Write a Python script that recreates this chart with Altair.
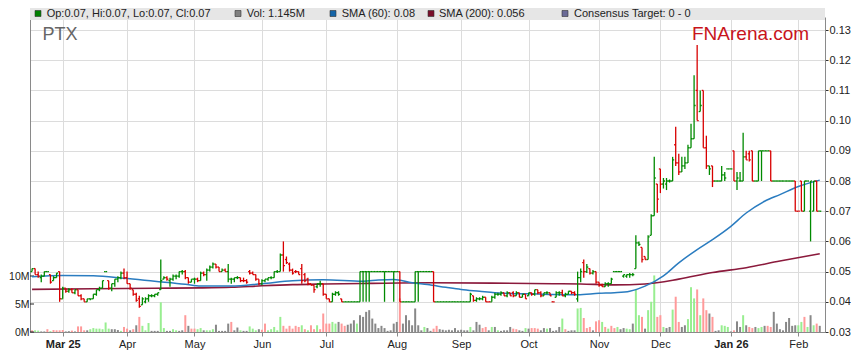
import altair as alt
import pandas as pd

# ---------------- data (prices in thousandths of a dollar, volume in millions) -------------
# x position = weekday index, 0 = Mon 3 Mar 2025; first bar is Mon 17 Feb 2025 (index -10)
FIRST_INDEX = -10

FEB25 = [(50,51,50,51,'g'),(51,51,49,49,'r'),(49,50,48,48.5,'r'),(48,49,46.5,48.5,'g'),(48.5,50,48.5,50,'g'),
         (50,50,50,50,'g'),(49,49,46,46.5,'r'),(47,48.5,47,48,'g'),(48,49.5,48,49.5,'g'),(50,50,40,41,'r')]
MAR25 = [(41,45,41,44.5,'g'),(44.5,44.5,43,43.5,'r'),(43.5,44.5,43,44,'g'),(44,44.5,43,43,'r'),(43,44,42.5,44,'g'),
         (44,44,42,42,'r'),(42,42.5,40.5,41,'r'),(41,41,40,40,'r'),(40,41,40,41,'g'),(41,41,40.5,41,'g'),
         (41,42.5,41,42.5,'g'),(42.5,44,42,44,'g'),(44,45,43.5,44.5,'g'),(44.5,47,44.5,47,'g'),(50,50,50,50,'g'),
         (47,47,44,44.5,'r'),(44.5,46,43.5,46,'g'),(46,47.5,45,47.5,'g'),(47.5,48.5,46.5,48,'g'),(48,50,47.5,49.5,'g'),
         (49.5,51,47.5,48,'r')]
APR25 = [(48,50,46,46,'r'),(46,46,44,44.5,'r'),(44,44,42,42.5,'r'),(42.5,43,40,40.5,'r'),(41,42,38,38.5,'r'),
         (39,41.5,39,41,'g'),(40,41.5,39.5,41,'g'),(41,42.5,40,42,'g'),(42,42.5,41.5,42,'g'),(42,42.5,41.5,42.5,'g'),
         (42.5,43,42,43,'g'),(44,54,44,47,'g'),(47.5,48.5,47.5,48,'g'),(48,48.5,47,47.5,'r'),(47,48,45,47.5,'g'),
         (47.5,49,47,48.5,'g'),(48.5,49,47.5,48.5,'g'),(48.5,50,48,50,'g'),(50,50.5,49,50,'g'),(50,50.5,47.5,48,'r'),
         (48,48,46,46.5,'r'),(46.5,47.5,46.5,47.5,'g')]
MAY25 = [(47.5,48,46,47.5,'g'),(47.5,48,46.5,47,'r'),(47,50,47,49.5,'g'),(49.5,50,48.5,49,'r'),(49,51,47,50.5,'g'),
         (50.5,52,50,51.5,'g'),(51.5,53,51,52.5,'g'),(52.5,52.5,51,51.5,'r'),(51.5,51.5,50,50,'r'),(50,51,50,50.5,'g'),
         (50.5,51,50,50,'r'),(50,52.5,46.5,47.5,'g'),(47.5,48,46,47.5,'g'),(47.5,48,46.5,48,'g'),(48,48.5,47.5,48,'g'),
         (48,48,46.5,47,'r'),(47,48,46.5,47,'r'),(47,47.5,46,46.5,'r'),(50,50.5,49,49.5,'r'),(49.5,50,49,49,'r'),
         (49,49,47,47.5,'r'),(47.5,47.5,45.5,46,'r')]
JUN25 = [(46,47.5,45.5,47,'g'),(47,47.5,46.5,47.5,'g'),(47.5,48,47,48,'g'),(48,48.5,47.5,48,'g'),(48,50,48,50,'g'),
         (50,50.5,49.5,50,'g'),(50,56,50,55.5,'g'),(55.5,60,50,52,'r'),(54,55,52.5,53,'r'),(52.5,53,50,50.5,'r'),
         (50.5,51,49,49.5,'r'),(50,50.5,49.5,50,'r'),(50,50,49,49,'r'),(51,52.5,46,47,'r'),(49,49.5,46.5,47,'r'),
         (47.5,48,45.5,46,'r'),(46,46,45.5,45.5,'r'),(45.5,45.5,43,44,'r'),(45,46,44.5,46,'g'),(46,47,45,46,'g'),
         (46,46,42,42.5,'r')]
JUL25 = [(42.5,42.5,41,41,'r'),(41,41,40,40,'r'),(40,43,40,42.5,'g'),(42.5,43.5,42,43,'g'),(43,43.5,42,42.5,'g'),
         (41,41,40,40,'r'),(40,40,40,40,'g'),(40,40,40,40,'g'),(40,40,40,40,'g'),(40,40,40,40,'g'),
         (40,40,40,40,'g'),(40,50,40,50,'g'),(50,50,40,50,'g'),(50,50,40,50,'g'),(50,50,40,50,'g'),
         (50,50,50,50,'g'),(50,50,50,50,'g'),(50,50,50,50,'g'),(50,50,50,50,'g'),(50,50,40,50,'g'),
         (50,50,50,50,'g'),(50,50,50,50,'g'),(50,50,40,50,'g')]
AUG25 = [(50,50,50,50,'g'),(50,50,40,40,'r'),(40,40,40,40,'g'),(40,40,40,40,'g'),(40,40,40,40,'g'),
         (40,40,40,40,'g'),(40,50,40,50,'g'),(50,50,40,50,'g'),(50,50,50,50,'g'),(50,50,50,50,'g'),
         (50,50,50,50,'g'),(50,50,50,50,'g'),(50,50,40,40,'r'),(40,40,40,40,'g'),(40,40,40,40,'g'),
         (40,40,40,40,'g'),(40,40,40,40,'g'),(40,40,40,40,'g'),(40,40,40,40,'g'),(40,40,40,40,'g'),
         (40,40,40,40,'g')]
SEP25 = [(40,40,40,40,'g'),(40,40,40,40,'g'),(40,40,40,40,'g'),(40,43,40,42.5,'g'),(42,42,40,40.5,'r'),
         (40.5,41.5,40,41,'g'),(41,41.5,40.5,41,'g'),(41,42,40.5,41.5,'g'),(41.5,41.5,40,40,'r'),(40,40,40,40,'r'),
         (40,42,40,41.5,'g'),(41.5,43,41,42.5,'g'),(42.5,43,42,42.5,'g'),(42.5,43.5,42,43,'g'),(43,43,42,42,'r'),
         (42,43.5,41.5,43,'g'),(43,43,42,42,'r'),(43,43.5,41.5,42,'r'),(42,43.5,42,43,'g'),(43,43,41.5,41.5,'r'),
         (41.5,42.5,41.5,42.5,'g'),(42.5,42.5,41,41,'r')]
OCT25 = [(42,43,42,43,'g'),(43,43,42,42.5,'r'),(42.5,44,42,44,'g'),(44,44,42.5,43,'r'),(43,43.5,41.5,42,'r'),
         (42,43,42,43,'g'),(43,43.5,42.5,43,'g'),(43,43,42,42,'r'),(40,40,40,40,'r'),(41.5,43.5,41.5,43,'g'),
         (43,43.5,42,43,'g'),(43,44,42,42,'r'),(42,43,41.5,42.5,'g'),(42.5,43.5,42.5,43.5,'g'),(43.5,43.5,42.5,43,'r'),
         (43,43.5,42,42.5,'r'),(41,50,40,48,'g'),(48,51,46.5,50,'g'),(53,54,48,50,'r'),(50,52.5,49.5,51.5,'g'),
         (51,51,49,49.5,'r'),(49.5,50.5,49,50,'g'),(50,50,46,46.5,'r')]
NOV25 = [(46.5,46.5,45,45.5,'r'),(45.5,46,45,45,'r'),(45,46.5,45,46,'g'),(46,46.5,45,46,'g'),(46,48,46,47.5,'g'),
         (50,50,50,50,'g'),(50,50,50,50,'g'),(50,50,50,50,'g'),(48.5,49,48,49,'g'),(48.5,49,48,49,'g'),
         (49,49.5,48,49,'g'),(49,49.5,48.5,49,'g'),(51,62,51,59.5,'g'),(59.5,60,58.5,59,'g'),(58,58,53,54,'r'),
         (55,55,54,54,'r'),(54,62,54,61.5,'g'),(62,69,62,68.5,'g'),(68.5,88,68.5,81,'g'),(79,79,69.5,74,'r')]
DEC25 = [(84,84,76,79,'r'),(79,81,77.5,80,'g'),(79,81,77,80,'g'),(80,80.5,79.5,80,'g'),(80,88,80,87,'g'),
         (92,98,85,86,'r'),(86,89,82,83,'r'),(83,88,83,85,'g'),(85,88,84,86,'g'),(86,92,86,91,'g'),
         (91,99,91,94,'g'),(94,115,94,105,'g'),(110,125,100,100,'r'),(103,110,103,105,'g'),(110,110,91,91,'r'),
         (91,95,84,85,'r'),(85,85,82,84,'g'),(85,85,78,80,'r'),(80,80,80,80,'g'),(80,80,80,80,'g'),
         (80,85,80,82,'g'),(82,83,80,81,'g'),(84,84,84,84,'g')]
JAN26 = [(84,84,84,84,'g'),(90,90,80,80,'r'),(80,83,77,81,'g'),(80,83,80,80,'g'),(80,96,80,88,'g'),
         (88,90,87,87,'r'),(89,90,86.5,87,'r'),(90,90,80,80,'r'),(80,80,80,80,'g'),(80,90,80,90,'g'),
         (90,90,80,90,'g'),(90,90,90,90,'g'),(90,90,90,90,'g'),(90,90,80,80,'r'),(80,80,80,80,'g'),
         (80,80,80,80,'g'),(80,80,80,80,'g'),(80,80,80,80,'g'),(80,80,80,80,'g'),(80,80,80,80,'g'),
         (80,80,80,80,'g'),(80,80,70,70,'r')]
FEB26 = [(70,70,70,70,'r'),(80,80,70,70,'r'),(70,80,70,80,'g'),(80,80,80,80,'g'),(70,80,60,80,'g'),
         (70,80,70,80,'g'),(80,80,70,70,'r'),(70,70,70,70,'g')]

VOL_FEB25 = [(0.3,'r'),(0.3,'g'),(0.25,'g'),(0.1,'x'),(0.1,'x'),(0.5,'r'),(0.15,'g'),(0.35,'r'),(0.3,'r'),(0.3,'r')]
VOL_MAR25 = [(0.35,'r'),(0.1,'x'),(0.15,'x'),(0.25,'r'),(0.1,'x'),(1.0,'r'),(1.0,'r'),(0.3,'r'),(0.3,'x'),(0.5,'g'),
             (0.7,'g'),(0.6,'g'),(0.6,'g'),(0.5,'g'),(1.7,'g'),(0.6,'g'),(0.5,'x'),(0.5,'x'),(0.35,'x'),(0.2,'g'),
             (0.9,'r')]
VOL_APR25 = [(0.6,'r'),(0.3,'x'),(0.5,'r'),(1.2,'x'),(2.7,'r'),(1.1,'g'),(0.3,'g'),(1.6,'g'),(0.2,'x'),(0.2,'x'),
             (0.2,'x'),(5.3,'g'),(0.7,'g'),(0.2,'x'),(0.2,'x'),(0.5,'g'),(0.3,'g'),(0.2,'x'),(0.3,'x'),(3.0,'r'),
             (1.1,'x'),(0.6,'r')]
VOL_MAY25 = [(0.6,'r'),(0.5,'g'),(0.7,'g'),(0.3,'x'),(0.3,'g'),(0.3,'g'),(0.5,'g'),(1.3,'x'),(0.2,'x'),(0.2,'x'),
             (0.2,'x'),(1.5,'x'),(1.8,'r'),(0.3,'x'),(0.8,'x'),(0.3,'g'),(0.2,'x'),(0.2,'x'),(1.0,'g'),(0.6,'g'),
             (0.3,'g'),(0.5,'x')]
VOL_JUN25 = [(0.4,'r'),(1.5,'r'),(0.3,'g'),(0.5,'g'),(0.9,'g'),(0.3,'g'),(2.7,'g'),(1.1,'r'),(0.6,'r'),(1.1,'r'),
             (0.6,'r'),(1.1,'r'),(0.9,'r'),(1.2,'g'),(0.5,'r'),(0.3,'g'),(1.2,'r'),(0.5,'r'),(1.2,'g'),(0.5,'r'),
             (3.3,'r')]
VOL_JUL25 = [(1.5,'r'),(1.5,'r'),(1.8,'g'),(1.5,'g'),(1.8,'x'),(1.5,'r'),(1.1,'r'),(1.3,'x'),(1.5,'x'),(2.1,'x'),
             (1.5,'g'),(3.0,'x'),(2.7,'x'),(3.6,'x'),(3.9,'x'),(2.4,'x'),(1.5,'x'),(0.7,'x'),(1.1,'x'),(0.7,'x'),
             (0.2,'x'),(0.3,'x'),(1.5,'x')]
VOL_AUG25 = [(1.8,'x'),(6.0,'r'),(1.5,'x'),(3.0,'x'),(2.1,'x'),(1.2,'x'),(4.2,'x'),(1.2,'x'),(0.3,'x'),(0.9,'g'),
             (0.7,'x'),(0.2,'x'),(0.6,'r'),(1.1,'r'),(0.5,'x'),(0.4,'x'),(0.3,'x'),(0.4,'x'),(0.3,'x'),(0.7,'x'),
             (0.3,'x')]
VOL_SEP25 = [(0.4,'x'),(0.3,'x'),(0.3,'x'),(0.9,'g'),(0.3,'x'),(1.8,'x'),(1.3,'x'),(0.7,'r'),(0.9,'r'),(0.3,'x'),
             (0.9,'g'),(0.9,'x'),(0.3,'g'),(0.2,'x'),(0.3,'x'),(0.3,'x'),(0.9,'x'),(0.6,'r'),(0.5,'r'),(0.3,'x'),
             (0.2,'x'),(0.7,'g')]
VOL_OCT25 = [(0.6,'x'),(0.7,'r'),(0.7,'r'),(0.6,'r'),(0.3,'x'),(0.7,'x'),(0.6,'g'),(0.7,'x'),(0.2,'x'),(0.3,'x'),
             (0.9,'x'),(2.4,'g'),(0.5,'r'),(0.2,'x'),(0.3,'x'),(0.3,'x'),(4.2,'g'),(4.3,'g'),(2.5,'r'),(0.7,'r'),
             (0.9,'r'),(0.3,'x'),(1.9,'r')]
VOL_NOV25 = [(2.1,'r'),(1.8,'g'),(0.9,'r'),(0.6,'g'),(1.1,'r'),(0.7,'r'),(0.9,'g'),(0.5,'x'),(0.7,'x'),(0.6,'g'),
             (0.5,'g'),(1.5,'x'),(7.7,'g'),(3.0,'g'),(2.7,'r'),(0.6,'x'),(3.9,'g'),(5.4,'g'),(10.1,'g'),(2.7,'r')]
VOL_DEC25 = [(3.0,'r'),(0.9,'g'),(0.7,'x'),(0.9,'x'),(4.0,'g'),(6.3,'r'),(1.8,'r'),(0.9,'x'),(1.2,'x'),(2.3,'g'),
             (8.0,'g'),(6.0,'g'),(7.6,'r'),(3.0,'g'),(6.0,'r'),(3.9,'r'),(3.3,'x'),(2.7,'r'),(0.2,'x'),(0.3,'x'),
             (1.2,'g'),(1.1,'g'),(0.9,'g')]
VOL_JAN26 = [(0.1,'x'),(0.3,'r'),(1.9,'x'),(0.9,'x'),(3.0,'g'),(1.2,'x'),(0.9,'r'),(0.7,'r'),(0.9,'x'),(0.7,'g'),
             (0.9,'g'),(1.1,'x'),(1.1,'r'),(0.9,'r'),(3.6,'x'),(1.5,'x'),(0.5,'x'),(0.3,'x'),(1.8,'x'),(2.5,'x'),
             (1.1,'x'),(1.2,'x')]
VOL_FEB26 = [(1.2,'g'),(1.8,'g'),(2.7,'r'),(0.9,'g'),(3.0,'x'),(1.2,'g'),(1.5,'r'),(1.1,'x')]

SMA60_IDX = [-10, 0, 10, 20, 30, 40, 45, 55, 65, 75, 85, 98, 103, 108, 114, 119, 125, 130, 136, 141, 147,
             152, 160, 168, 175, 180, 185, 190, 196, 201, 207, 212, 218, 223, 229, 234, 240, 247]
SMA60_VAL = [48.3, 48.7, 48.6, 47.8, 46.8, 45.8, 45.2, 45.2, 46.0, 47.0, 47.3, 46.8, 47.2, 47.4, 46.3, 45.7,
             44.8, 44.1, 43.5, 43.0, 42.7, 42.7, 42.4, 42.3, 42.8, 43.0, 43.5, 45.2, 48.6, 52.9, 57.3, 60.6,
             65.0, 69.4, 73.3, 75.5, 78.2, 80.3]
SMA200_IDX = [-10, 10, 30, 45, 55, 65, 75, 85, 100, 120, 140, 160, 169, 180, 190, 201, 212, 223, 234, 247]
SMA200_VAL = [44.1, 44.3, 44.5, 44.6, 44.8, 45.3, 45.7, 45.9, 46.1, 46.3, 46.2, 46.0, 45.9, 45.6, 45.9,
              47.5, 49.7, 51.3, 53.5, 55.9]

MONTH_TICKS = [0, 21, 43, 65, 86, 109, 130, 152, 175, 195, 218, 240]
MONTH_LABELS = ["Mar 25", "Apr", "May", "Jun", "Jul", "Aug", "Sep", "Oct", "Nov", "Dec", "Jan 26", "Feb"]
BOLD_TICKS = [0, 218]
PRICE_TICKS = [0.03, 0.04, 0.05, 0.06, 0.07, 0.08, 0.09, 0.10, 0.11, 0.12, 0.13]
VOL_TICKS = [0, 5, 10]

LEGEND_LABELS = ["Op:0.07, Hi:0.07, Lo:0.07, Cl:0.07", "Vol: 1.145M", "SMA (60): 0.08",
                 "SMA (200): 0.056", "Consensus Target: 0 - 0"]
LEGEND_SWATCHES = ["#008000", "#808080", "#1565a8", "#7a0e2a", "#6a6a96"]
TICKER = "PTX"
BRAND = "FNArena.com"

# ---------------- assemble ----------------
MONTHS = [FEB25, MAR25, APR25, MAY25, JUN25, JUL25, AUG25, SEP25, OCT25, NOV25, DEC25, JAN26, FEB26]
VOLS = [VOL_FEB25, VOL_MAR25, VOL_APR25, VOL_MAY25, VOL_JUN25, VOL_JUL25, VOL_AUG25, VOL_SEP25,
        VOL_OCT25, VOL_NOV25, VOL_DEC25, VOL_JAN26, VOL_FEB26]
PRICE_COL = {'g': '#008a00', 'r': '#d80000'}
VOL_COL = {'g': '#98ee90', 'r': '#ff9a9a', 'x': '#888888'}

rows = []
idx = FIRST_INDEX
for month, vols in zip(MONTHS, VOLS):
    for (o, h, l, c, d), (v, vc) in zip(month, vols):
        rows.append(dict(i=idx, o=o / 1000, h=h / 1000, l=l / 1000, c=c / 1000,
                         pc=PRICE_COL[d], v=v, v0=0.0, vcol=VOL_COL[vc]))
        idx += 1
df = pd.DataFrame(rows)
df["xo"] = df["i"] - 0.5
df["xc"] = df["i"] + 0.5

sma60 = pd.DataFrame({"i": SMA60_IDX, "s": [x / 1000 for x in SMA60_VAL]})
sma200 = pd.DataFrame({"i": SMA200_IDX, "s": [x / 1000 for x in SMA200_VAL]})

FONT = "Liberation Sans"
W, H = 795, 315
PX_PER_DAY = 3.065
X_MIN = -10.67
X_MAX = X_MIN + W / PX_PER_DAY

label_expr = "[" + ",".join("'%s'" % s for s in MONTH_LABELS) + "][indexof([" + \
    ",".join(str(t) for t in MONTH_TICKS) + "], datum.value)]"
bold_test = " || ".join("datum.value == %d" % t for t in BOLD_TICKS)

x_scale = alt.Scale(domain=[X_MIN, X_MAX], nice=False, zero=False)
x_axis = alt.Axis(values=MONTH_TICKS, labelExpr=label_expr, grid=True, gridColor="#dcdcdc",
                  domainColor="#8a8a8a", tickColor="#8a8a8a", tickSize=4, labelFontSize=11,
                  labelColor="#222222", labelPadding=2, title=None,
                  labelFontWeight=alt.condition(bold_test, alt.value("bold"), alt.value("normal")))

def X(field):
    return alt.X(field, type="quantitative", scale=x_scale, axis=x_axis)

p_scale = alt.Scale(domain=[0.03, 0.13431], nice=False, zero=False)
p_axis = alt.Axis(orient="right", values=PRICE_TICKS, format=".2f", grid=True, gridColor="#dcdcdc",
                  domainColor="#8a8a8a", tickColor="#333333", tickSize=3, labelFontSize=11,
                  labelColor="#222222", labelPadding=1, title=None)

def PY(field):
    return alt.Y(field, type="quantitative", scale=p_scale, axis=p_axis)

v_scale = alt.Scale(domain=[0, 56.25], nice=False, zero=True)
v_axis = alt.Axis(orient="left", values=VOL_TICKS, labelExpr="datum.value + 'M'", grid=False,
                  domainColor="#8a8a8a", tickSize=0, labelFontSize=10.5, labelColor="#222222",
                  labelPadding=1, title=None)

def VY(field):
    return alt.Y(field, type="quantitative", scale=v_scale, axis=v_axis)

base = alt.Chart(df)

vol_bars = base.mark_rule(strokeWidth=2).encode(
    x=X("i"), y=VY("v"), y2="v0:Q", color=alt.Color("vcol:N", scale=None))
vol_ticks = alt.Chart(pd.DataFrame({"t": VOL_TICKS})).mark_rule(color="#222222").encode(
    y=VY("t"), x=alt.value(0), x2=alt.value(4))
vol_group = alt.layer(vol_bars, vol_ticks)

sma200_line = alt.Chart(sma200).mark_line(color="#8b1a3c", strokeWidth=1.6, interpolate="monotone").encode(
    x=X("i"), y=PY("s"))
sma60_line = alt.Chart(sma60).mark_line(color="#2a7cc0", strokeWidth=1.5, interpolate="monotone").encode(
    x=X("i"), y=PY("s"))
hl = base.mark_rule(strokeWidth=1.3).encode(
    x=X("i"), y=PY("l"), y2="h:Q", color=alt.Color("pc:N", scale=None))
open_tick = base.mark_rule(strokeWidth=1.3).encode(
    x=X("xo"), x2="i:Q", y=PY("o"), color=alt.Color("pc:N", scale=None))
close_tick = base.mark_rule(strokeWidth=1.3).encode(
    x=X("i"), x2="xc:Q", y=PY("c"), color=alt.Color("pc:N", scale=None))
price_group = alt.layer(sma200_line, sma60_line, hl, open_tick, close_tick)

one = pd.DataFrame({"d": [0]})
deco = []
# legend band
deco.append(alt.Chart(one).mark_rect(color="#e6e6e6").encode(
    x=alt.value(0), x2=alt.value(W), y=alt.value(-9), y2=alt.value(3)))
SW_X = [5, 205, 300, 398, 532]
TX_X = [16.7, 216.7, 311.7, 409, 544]
for lab, col, sx, tx in zip(LEGEND_LABELS, LEGEND_SWATCHES, SW_X, TX_X):
    deco.append(alt.Chart(one).mark_rect(color=col, stroke="#333333", strokeWidth=0.6).encode(
        x=alt.value(sx), x2=alt.value(sx + 6), y=alt.value(-6.5), y2=alt.value(-0.5)))
    deco.append(alt.Chart(one).mark_text(align="left", baseline="middle", fontSize=11,
                                          color="#222222", font=FONT).encode(
        x=alt.value(tx), y=alt.value(-3.2), text=alt.value(lab)))
deco.append(alt.Chart(one).mark_text(align="left", baseline="alphabetic", fontSize=18,
                                      color="#666666", font=FONT).encode(
    x=alt.value(12.5), y=alt.value(23), text=alt.value(TICKER)))
deco.append(alt.Chart(one).mark_text(align="left", baseline="alphabetic", fontSize=19,
                                      color="#c8141c", font=FONT).encode(
    x=alt.value(662), y=alt.value(23), text=alt.value(BRAND)))

chart = alt.layer(vol_group, price_group, *deco).resolve_scale(y="independent").properties(
    width=W, height=H,
    autosize=alt.AutoSizeParams(type="none"),
    padding={"left": 22, "top": 9, "right": 26, "bottom": 20},
).configure(font=FONT).configure_view(stroke=None)

chart.save("out.html", embed_options={"renderer": "svg", "actions": False})
